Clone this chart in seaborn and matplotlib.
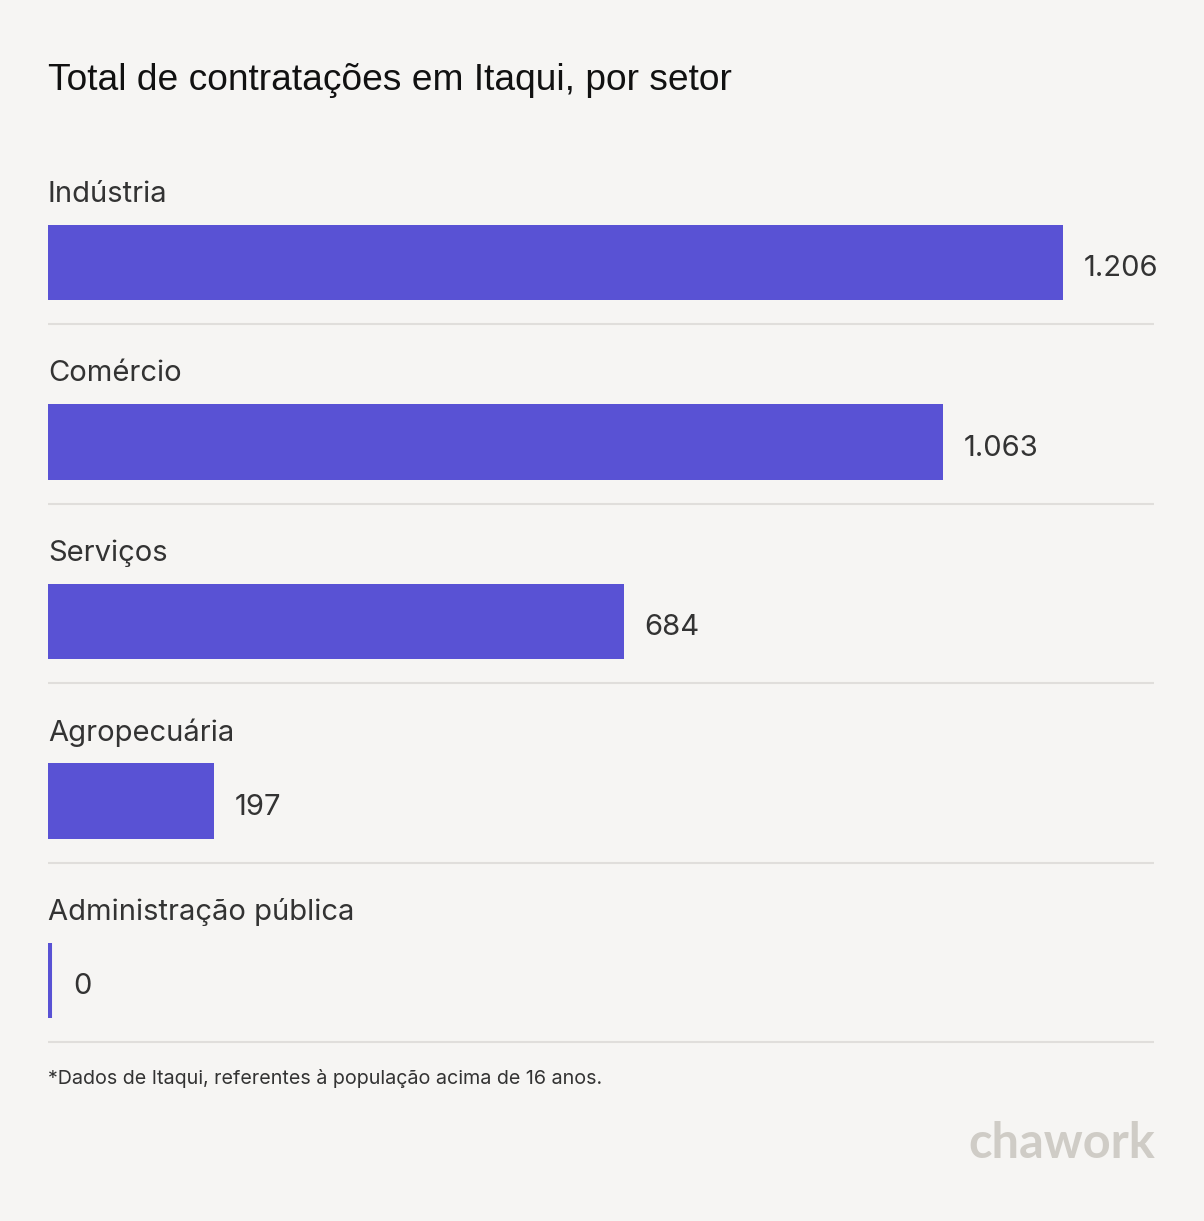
import matplotlib
matplotlib.use("Agg")
import matplotlib.pyplot as plt
import seaborn as sns
import pandas as pd
from matplotlib.transforms import offset_copy

categories = ["Indústria", "Comércio", "Serviços", "Agropecuária", "Administração pública"]
values = [1206, 1063, 684, 197, 0]
value_labels = ["1.206", "1.063", "684", "197", "0"]

title = "Total de contratações em Itaqui, por setor"
footnote = "*Dados de Itaqui, referentes à população acima de 16 anos."
logo = "chawork"

BG = "#f6f5f3"
BAR = "#5952d4"
TXT = "#333333"
SEP = "#e0dedb"

sns.set_theme(style="white")
plt.rcParams["font.family"] = ["Inter", "DejaVu Sans"]

W, H = 1204, 1221
fig = plt.figure(figsize=(W / 100, H / 100), dpi=100, facecolor=BG)

def fx(px):
    return px / W

def fy(px):
    return 1 - px / H

left_px, right_px = 48, 1154
top_px, bot_px = 172.75, 1070.25
ax = fig.add_axes([fx(left_px), fy(bot_px), fx(right_px - left_px), (bot_px - top_px) / H])
ax.set_facecolor(BG)

df = pd.DataFrame({"cat": categories, "val": values})
sns.barplot(data=df, y="cat", x="val", orient="h", color=BAR, width=0.418,
            saturation=1, ax=ax, edgecolor=BAR, linewidth=0)
# minimal visible width for zero bar (half of the stroke is clipped at the axis edge)
for p, v in zip(ax.patches, values):
    if v == 0:
        p.set_linewidth(5.8)
        p.set_edgecolor(BAR)

xmax = 1206 * (right_px - left_px) / (1063 - 48)
ax.set_xlim(0, xmax)
ax.set_ylim(4.5, -0.5)
ax.set_xlabel("")
ax.set_ylabel("")
ax.set_xticks([])
ax.set_yticks([])
for s in ax.spines.values():
    s.set_visible(False)

for i, (c, v, lab) in enumerate(zip(categories, values, value_labels)):
    ax.text(0, i - 0.38, c, ha="left", va="center", fontsize=21, color=TXT)
    tr = offset_copy(ax.transData, fig=fig, x=21 if v > 0 else 25, y=0, units="dots")
    ax.text(v, i + 0.035, lab, ha="left", va="center", fontsize=21, color=TXT, transform=tr)
    ax.axhline(i + 0.345, color=SEP, lw=1.5, xmin=0, xmax=1)

fig.text(fx(48), fy(80), title, ha="left", va="center", fontsize=26.7,
         color="#111111", family=["Liberation Sans", "DejaVu Sans"])
fig.text(fx(48), fy(1078), footnote, ha="left", va="center", fontsize=14.2, color=TXT)
fig.text(fx(1155), fy(1143), logo, ha="right", va="center", fontsize=35,
         color="#cfccc6", fontweight="bold", family=["Lato", "DejaVu Sans"])

fig.savefig("out.png", dpi=100, facecolor=BG)
